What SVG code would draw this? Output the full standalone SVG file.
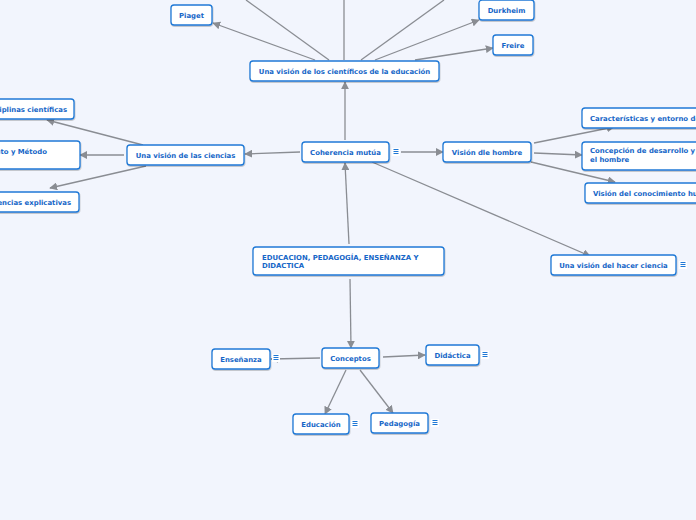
<svg xmlns="http://www.w3.org/2000/svg" width="696" height="520" viewBox="0 0 696 520">
<style>
.n rect{fill:#fff;stroke:#1f78d6;stroke-width:1.3}
.n text{font-family:"DejaVu Sans",Verdana,sans-serif;font-weight:bold;font-size:6.9px;fill:#1566c7}
.c path{fill:none;stroke:#8a8d93;stroke-width:1.3}
</style>
<defs>
<marker id="a" viewBox="0 0 10 10" refX="9" refY="5" markerWidth="8" markerHeight="8" markerUnits="userSpaceOnUse" orient="auto">
<path d="M0,0 L10,5 L0,10 z" fill="#8a8d93"/>
</marker>
<filter id="sh" x="-10%" y="-20%" width="120%" height="150%"><feDropShadow dx="0.5" dy="1" stdDeviation="0.6" flood-color="#000" flood-opacity="0.25"/></filter>
<g id="menu"><rect x="-4" y="-4" width="8" height="8" fill="#fff"/><path d="M-2.5,-2.5 H2.5 M-2.5,-0.5 H2.5 M-2.5,1.5 H2.5" stroke="#1f78d6" stroke-width="1" fill="none"/></g>
</defs>
<rect width="696" height="520" fill="#f2f5fd"/>
<g class="c">
<path d="M315,60 L213,23" marker-end="url(#a)"/>
<path d="M329,60 L246,0"/>
<path d="M344,60 L344,0"/>
<path d="M361,60 L444,0"/>
<path d="M375,60 L479,20" marker-end="url(#a)"/>
<path d="M415,60 L493,48" marker-end="url(#a)"/>
<path d="M345,140 L345,82" marker-end="url(#a)"/>
<path d="M300,152 L245,154" marker-end="url(#a)"/>
<path d="M401,152 L443,152" marker-end="url(#a)"/>
<path d="M372,162 L590,256" marker-end="url(#a)"/>
<path d="M349,244 L345,163" marker-end="url(#a)"/>
<path d="M534,143 L614,127" marker-end="url(#a)"/>
<path d="M534,153 L582,155" marker-end="url(#a)"/>
<path d="M531,162 L615,182" marker-end="url(#a)"/>
<path d="M143,145 L47,120" marker-end="url(#a)"/>
<path d="M124,155 L80,155" marker-end="url(#a)"/>
<path d="M146,166 L50,188" marker-end="url(#a)"/>
<path d="M350,279 L351,348" marker-end="url(#a)"/>
<path d="M320,358 L271,359" marker-end="url(#a)"/>
<path d="M383,357 L425,355" marker-end="url(#a)"/>
<path d="M346,370 L325,414" marker-end="url(#a)"/>
<path d="M360,370 L393,413" marker-end="url(#a)"/>
</g>
<g id="piaget" class="n"><rect x="171" y="5" width="41" height="20" rx="3" filter="url(#sh)"/><text x="191.5" y="17.5" text-anchor="middle">Piaget</text></g>
<g id="durkheim" class="n"><rect x="479" y="0" width="55" height="20" rx="3" filter="url(#sh)"/><text x="506.5" y="12.5" text-anchor="middle">Durkheim</text></g>
<g id="freire" class="n"><rect x="493" y="35" width="40" height="20" rx="3" filter="url(#sh)"/><text x="513" y="47.5" text-anchor="middle">Freire</text></g>
<g id="cientificos" class="n"><rect x="250" y="61" width="189" height="20" rx="3" filter="url(#sh)"/><text x="344.5" y="73.5" text-anchor="middle">Una visión de los científicos de la educación</text></g>
<g id="coherencia" class="n"><rect x="302" y="142" width="87" height="20" rx="3" filter="url(#sh)"/><text x="345.5" y="154.5" text-anchor="middle">Coherencia mutúa</text></g>
<g id="hombre" class="n"><rect x="443" y="142" width="88" height="20" rx="3" filter="url(#sh)"/><text x="487" y="154.5" text-anchor="middle">Visión dle hombre</text></g>
<g id="caracteristicas" class="n"><rect x="582" y="108" width="130" height="20" rx="3" filter="url(#sh)"/><text x="590" y="120.5">Características y entorno del hombre</text></g>
<g id="concepcion" class="n"><rect x="582" y="142" width="130" height="28" rx="3" filter="url(#sh)"/><text x="590" y="153">Concepción de desarrollo y formación de</text><text x="590" y="161.5">el hombre</text></g>
<g id="conocimiento" class="n"><rect x="585" y="183" width="130" height="20" rx="3" filter="url(#sh)"/><text x="593" y="195.5">Visión del conocimiento humano</text></g>
<g id="hacer" class="n"><rect x="551" y="255" width="125" height="20" rx="3" filter="url(#sh)"/><text x="613.5" y="267.5" text-anchor="middle">Una visión del hacer ciencia</text></g>
<g id="ciencias" class="n"><rect x="127" y="145" width="117" height="20" rx="3" filter="url(#sh)"/><text x="185.5" y="157.5" text-anchor="middle">Una visión de las ciencias</text></g>
<g id="disciplinas" class="n"><rect x="-60" y="99" width="134" height="20" rx="3" filter="url(#sh)"/><text x="67" y="111.5" text-anchor="end">Disciplinas científicas</text></g>
<g id="metodo" class="n"><rect x="-60" y="141" width="140" height="28" rx="3" filter="url(#sh)"/><text x="47" y="153.5" text-anchor="end">Objeto y Método</text></g>
<g id="explicativas" class="n"><rect x="-60" y="192" width="139" height="20" rx="3" filter="url(#sh)"/><text x="71" y="204.5" text-anchor="end">Ciencias explicativas</text></g>
<g id="educacion-root" class="n"><rect x="253" y="247" width="191" height="28" rx="3" filter="url(#sh)"/><text x="262" y="259.5">EDUCACION, PEDAGOGÍA, ENSEÑANZA Y</text><text x="262" y="268">DIDACTICA</text></g>
<g id="conceptos" class="n"><rect x="322" y="348" width="57" height="20" rx="3" filter="url(#sh)"/><text x="350.5" y="360.5" text-anchor="middle">Conceptos</text></g>
<g id="ensenanza" class="n"><rect x="212" y="349" width="58" height="20" rx="3" filter="url(#sh)"/><text x="241" y="361.5" text-anchor="middle">Enseñanza</text></g>
<g id="didactica" class="n"><rect x="426" y="345" width="53" height="20" rx="3" filter="url(#sh)"/><text x="452.5" y="357.5" text-anchor="middle">Didáctica</text></g>
<g id="educacion" class="n"><rect x="293" y="414" width="56" height="20" rx="3" filter="url(#sh)"/><text x="321" y="426.5" text-anchor="middle">Educación</text></g>
<g id="pedagogia" class="n"><rect x="371" y="413" width="57" height="20" rx="3" filter="url(#sh)"/><text x="399.5" y="425.5" text-anchor="middle">Pedagogía</text></g>
<g id="icons">
<use href="#menu" x="396" y="152"/>
<use href="#menu" x="683" y="265"/>
<use href="#menu" x="276" y="358"/>
<use href="#menu" x="485" y="355"/>
<use href="#menu" x="355" y="424"/>
<use href="#menu" x="435" y="423"/>
</g>
</svg>
